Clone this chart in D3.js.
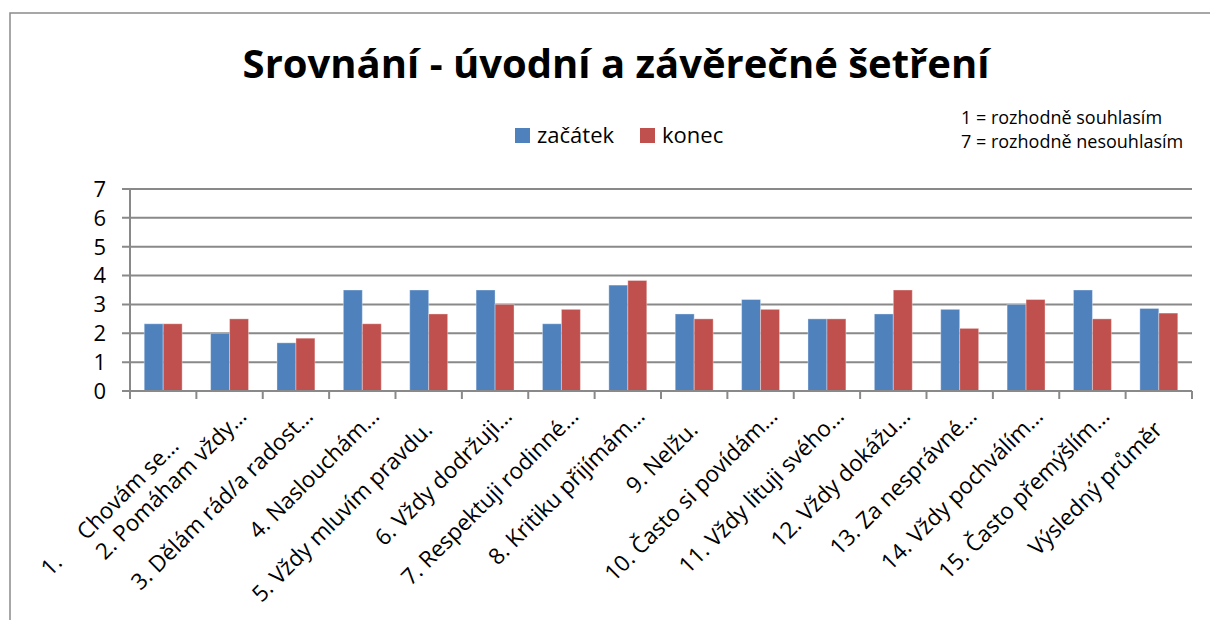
<!DOCTYPE html>
<html>
<head>
<meta charset="utf-8">
<script src="https://cdn.jsdelivr.net/npm/d3@7"></script>
<style>
  body { margin: 0; background: #fff; }
  svg { display: block; font-family: "Open Sans", sans-serif; }
</style>
</head>
<body>
<svg width="1210" height="620"></svg>
<script>
// Srovnání - úvodní a závěrečné šetření (grouped bars)

// DATA
var categories = ["1.\nChovám se…", "2. Pomáham vždy…", "3. Dělám rád/a radost…", "4. Naslouchám…",
    "5. Vždy mluvím pravdu.", "6. Vždy dodržuji…", "7. Respektuji rodinné…", "8. Kritiku přijímám…",
    "9. Nelžu.", "10. Často si povídám…", "11. Vždy lituji svého…", "12. Vždy dokážu…",
    "13. Za nesprávné…", "14. Vždy pochválím…", "15. Často přemýšlím…", "Výsledný průměr"];
var series = ["začátek", "konec"];
var zacatek = [2.33, 2.0, 1.67, 3.5, 3.5, 3.5, 2.33, 3.67, 2.67, 3.17, 2.5, 2.67, 2.83, 3.0, 3.5, 2.86];
var konec = [2.33, 2.5, 1.83, 2.33, 2.67, 3.0, 2.83, 3.83, 2.5, 2.83, 2.5, 3.5, 2.17, 3.17, 2.5, 2.7];
var yTicks = [0, 1, 2, 3, 4, 5, 6, 7];
var notes = ["1 = rozhodně souhlasím", "7 = rozhodně nesouhlasím"];
var titleText = "Srovnání - úvodní a závěrečné šetření";

var colors = ["#4f81bd", "#c0504d"];
var gridColor = "#898989";

var svg = d3.select("svg");

// outer chart frame (right / bottom edge run off the picture)
svg.append("rect")
    .attr("x", 10).attr("y", 13)
    .attr("width", 1220).attr("height", 640)
    .attr("fill", "#fff")
    .attr("stroke", "#8a8a8a")
    .attr("stroke-width", 1.5);

// plot area (note: "top" is taken by window.top, so use other names)
var plotL = 130, plotR = 1192, plotT = 189, plotB = 391;

var x = d3.scaleBand().domain(d3.range(categories.length)).range([plotL, plotR]).padding(0);
var x1 = d3.scaleBand().domain(series).range([0, x.bandwidth()]).paddingInner(0).paddingOuter(0.75);
var y = d3.scaleLinear().domain([0, 7]).range([plotB, plotT]);

// gridlines
svg.append("g")
    .selectAll("line")
    .data(yTicks)
    .join("line")
    .attr("x1", plotL - 8).attr("x2", plotR)
    .attr("y1", d => y(d)).attr("y2", d => y(d))
    .attr("stroke", gridColor)
    .attr("stroke-width", 2);

// y axis labels
svg.append("g")
    .selectAll("text")
    .data(yTicks)
    .join("text")
    .attr("x", 106)
    .attr("y", d => y(d))
    .attr("dy", "0.36em")
    .attr("text-anchor", "end")
    .attr("font-size", "22px")
    .attr("fill", "#000")
    .text(d => d);

// bars
var rows = categories.map((c, i) => ({i: i, values: [zacatek[i], konec[i]]}));
svg.append("g")
    .selectAll("g")
    .data(rows)
    .join("g")
    .attr("transform", d => "translate(" + x(d.i) + ",0)")
    .selectAll("rect")
    .data(d => d.values.map((v, k) => ({key: series[k], v: v, k: k})))
    .join("rect")
    .attr("x", d => x1(d.key))
    .attr("y", d => y(d.v))
    .attr("width", x1.bandwidth())
    .attr("height", d => y(0) - y(d.v))
    .attr("fill", d => colors[d.k])
    .attr("stroke", "rgba(255,255,255,0.35)")
    .attr("stroke-width", 1);

// axes lines + category ticks
svg.append("line")
    .attr("x1", plotL).attr("x2", plotL)
    .attr("y1", plotT).attr("y2", plotB)
    .attr("stroke", gridColor).attr("stroke-width", 2);
svg.append("line")
    .attr("x1", plotL - 8).attr("x2", plotR)
    .attr("y1", plotB).attr("y2", plotB)
    .attr("stroke", gridColor).attr("stroke-width", 2);
svg.append("g")
    .selectAll("line")
    .data(d3.range(categories.length + 1))
    .join("line")
    .attr("x1", d => plotL + d * x.step()).attr("x2", d => plotL + d * x.step())
    .attr("y1", plotB).attr("y2", plotB + 8)
    .attr("stroke", gridColor).attr("stroke-width", 2);

// category labels, rotated 45deg
var labels = svg.append("g")
    .selectAll("text")
    .data(categories)
    .join("text")
    .attr("transform", (d, i) => "translate(" + (x(i) + x.bandwidth() / 2 + 5) + ",431) rotate(-45)")
    .attr("text-anchor", "end")
    .attr("font-size", "22.5px")
    .attr("fill", "#000");

labels.each(function(d) {
    var t = d3.select(this);
    var parts = d.split("\n");
    var truncated = d.endsWith("…");
    if (parts.length > 1) {
        // first label: "1." sits far back on the same line, with a wide gap
        t.append("tspan").attr("x", -168).attr("y", 20).text(parts[0]);
        t.append("tspan").attr("x", -3).attr("y", 20).text(parts[1]);
    } else {
        t.append("tspan").attr("x", truncated ? 19 : 0).attr("y", 0).text(d);
    }
});

// title
svg.append("text")
    .attr("x", 616).attr("y", 78)
    .attr("text-anchor", "middle")
    .attr("font-size", "40px")
    .attr("font-weight", "bold")
    .attr("fill", "#000")
    .text(titleText);

// legend
var legend = svg.append("g")
    .selectAll("g")
    .data(series)
    .join("g")
    .attr("transform", (d, i) => "translate(" + [515, 640][i] + ",128)");
legend.append("rect")
    .attr("width", 15).attr("height", 15)
    .attr("fill", (d, i) => colors[i]);
legend.append("text")
    .attr("x", 22).attr("y", 15)
    .attr("font-size", "22px")
    .attr("fill", "#000")
    .text(d => d);

// scale notes
svg.append("g")
    .selectAll("text")
    .data(notes)
    .join("text")
    .attr("x", 961)
    .attr("y", (d, i) => 124 + i * 24)
    .attr("font-size", "18px")
    .attr("fill", "#000")
    .text(d => d);
</script>
</body>
</html>
